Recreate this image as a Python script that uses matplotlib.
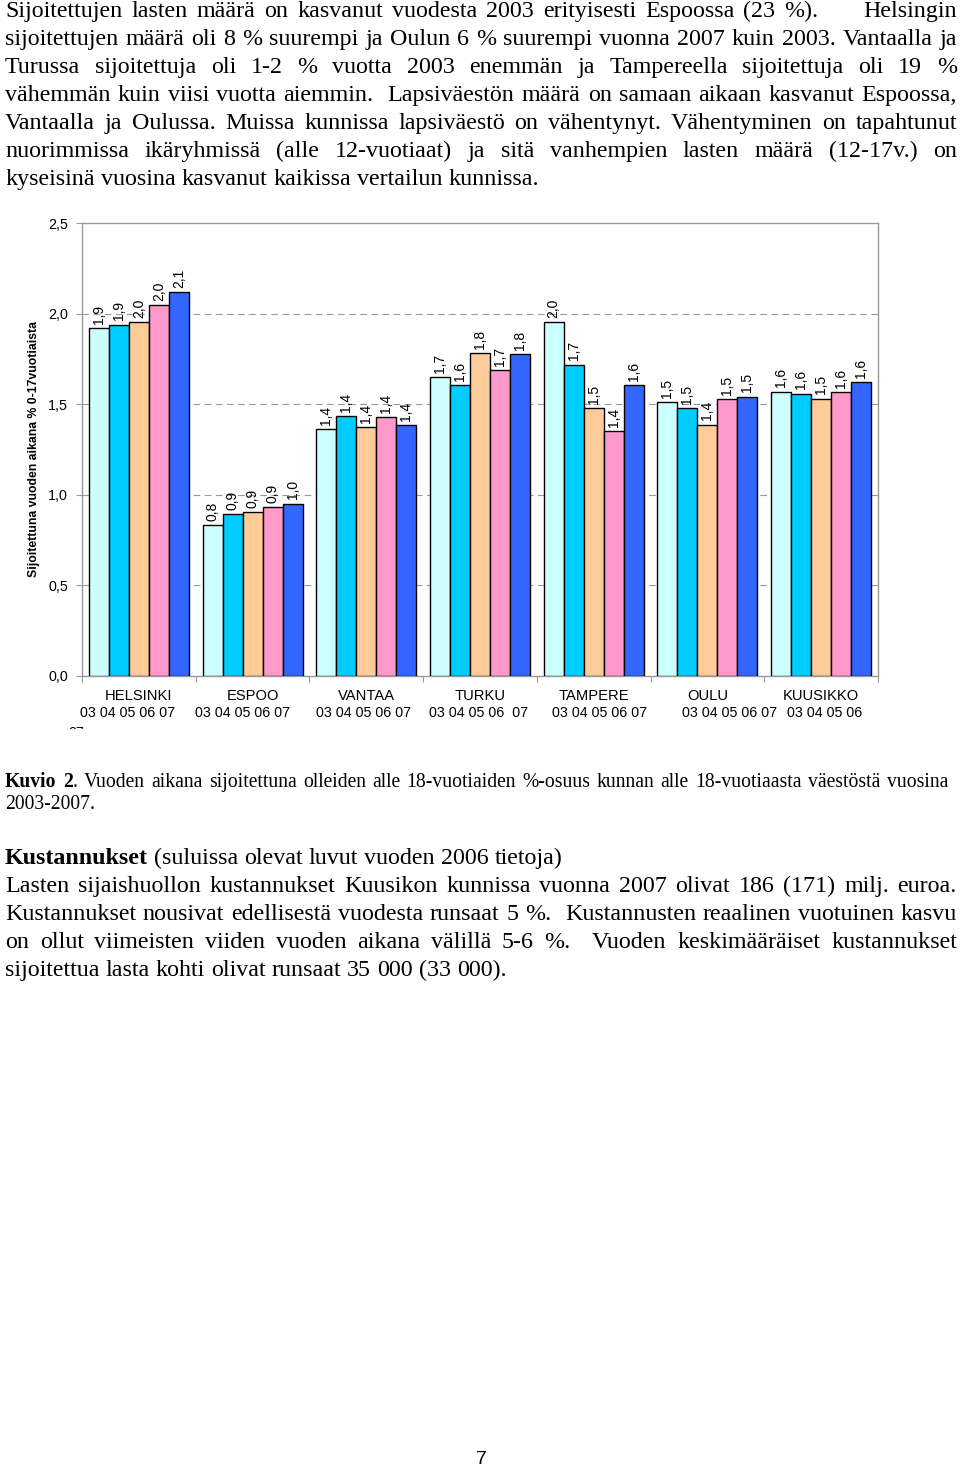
import re
import numpy as np
import matplotlib
matplotlib.use('Agg')
import matplotlib.pyplot as plt
from matplotlib.transforms import Bbox

# data
cities = ['HELSINKI', 'ESPOO', 'VANTAA', 'TURKU', 'TAMPERE', 'OULU', 'KUUSIKKO']
years = ['03', '04', '05', '06', '07']
v03 = [1.922, 0.831, 1.364, 1.652, 1.955, 1.513, 1.570]
v04 = [1.940, 0.892, 1.434, 1.607, 1.719, 1.481, 1.559]
v05 = [1.952, 0.905, 1.375, 1.784, 1.478, 1.388, 1.531]
v06 = [2.047, 0.932, 1.430, 1.690, 1.351, 1.530, 1.565]
v07 = [2.121, 0.951, 1.386, 1.778, 1.607, 1.542, 1.624]
year_rows = ['03 04 05 06 07', '03 04 05 06 07', '03 04 05 06 07', '03 04 05 06  07',
             '03 04 05 06 07', '03 04 05 06 07', '03 04 05 06']
yticks = [0.0, 0.5, 1.0, 1.5, 2.0, 2.5]

para1 = [
    "Sijoitettujen lasten määrä on kasvanut vuodesta 2003 erityisesti Espoossa (23 %).     Helsingin",
    "sijoitettujen määrä oli 8 % suurempi ja Oulun 6 % suurempi vuonna 2007 kuin 2003. Vantaalla ja",
    "Turussa sijoitettuja oli 1-2 % vuotta 2003 enemmän ja Tampereella sijoitettuja oli 19 %",
    "vähemmän kuin viisi vuotta aiemmin.  Lapsiväestön määrä on samaan aikaan kasvanut Espoossa,",
    "Vantaalla ja Oulussa. Muissa kunnissa lapsiväestö on vähentynyt. Vähentyminen on tapahtunut",
    "nuorimmissa ikäryhmissä (alle 12-vuotiaat) ja sitä vanhempien lasten määrä (12-17v.) on",
    "kyseisinä vuosina kasvanut kaikissa vertailun kunnissa.",
]
caption = [
    "*Kuvio 2*. Vuoden aikana sijoitettuna olleiden alle 18-vuotiaiden %-osuus kunnan alle 18-vuotiaasta väestöstä vuosina",
    "2003-2007.",
]
para2 = [
    "*Kustannukset* (suluissa olevat luvut vuoden 2006 tietoja)",
    "Lasten sijaishuollon kustannukset Kuusikon kunnissa vuonna 2007 olivat 186 (171) milj. euroa.",
    "Kustannukset nousivat edellisestä vuodesta runsaat 5 %.  Kustannusten reaalinen vuotuinen kasvu",
    "on ollut viimeisten viiden vuoden aikana välillä 5-6 %.  Vuoden keskimääräiset kustannukset",
    "sijoitettua lasta kohti olivat runsaat 35 000 (33 000).",
]

W, H = 960, 1469
fig = plt.figure(figsize=(W / 100, H / 100), dpi=100)
renderer = fig.canvas.get_renderer()
serif = 'Liberation Serif'
sans = 'Liberation Sans'


def fx(x):
    return x / W


def fy(y):
    return 1 - y / H


def text_w(s, size, bold):
    t = fig.text(0, 0, s, fontsize=size, family=serif, fontweight='bold' if bold else 'normal')
    w = t.get_window_extent(renderer).width
    t.remove()
    return w


def put_line(line, y, size, x0=5, x1=957, justify=True):
    # split into words, keep number of spaces between them
    words = [m.group(0) for m in re.finditer(r'\S+', line)]
    gaps = [len(g) for g in re.findall(r'(?<=\S)( +)(?=\S)', line)]
    bold = False
    parsed = []
    for w in words:
        segs = []
        for k, part in enumerate(w.split('*')):
            if k > 0:
                bold = not bold
            if part:
                segs.append((part, bold))
        parsed.append(segs)
    widths = [sum(text_w(s, size, b) for s, b in segs) for segs in parsed]
    space = text_w('a a', size, False) - text_w('aa', size, False)
    natural = sum(widths) + space * sum(gaps)
    if justify and gaps:
        sp = space + (x1 - x0 - natural) / sum(gaps)
    else:
        sp = space
    x = x0
    for i, segs in enumerate(parsed):
        for s, b in segs:
            fig.text(fx(x), fy(y), s, fontsize=size, family=serif,
                     fontweight='bold' if b else 'normal', va='baseline', ha='left')
            x += text_w(s, size, b)
        if i < len(gaps):
            x += sp * gaps[i]


for k, line in enumerate(para1):
    put_line(line, 17 + 28 * k, 17.3, justify=k < len(para1) - 1)
for k, line in enumerate(caption):
    put_line(line, 787 + 22 * k, 14.1, x1=948, justify=k == 0)
for k, line in enumerate(para2):
    put_line(line, 864 + 28 * k, 17.3, justify=0 < k < len(para2) - 1)

# chart
ax = fig.add_axes([fx(82), fy(675.7), fx(878) - fx(82), fy(223.3) - fy(675.7)])
colors = ['#CCFFFF', '#00CCFF', '#FFCC99', '#FF99CC', '#3366FF']
series = [v03, v04, v05, v06, v07]
bw = 0.176
x = np.arange(len(cities))
for j, vals in enumerate(series):
    xs = x + (j - 2) * bw
    ax.bar(xs, vals, width=bw, color=colors[j], edgecolor='black', linewidth=1.0, zorder=3)
    for xi, v in zip(xs, vals):
        ax.annotate(f'{v:.1f}'.replace('.', ','), (xi, v), xytext=(0, 3),
                    textcoords='offset points', rotation=90, ha='center', va='bottom',
                    fontsize=10, family=sans, zorder=4)

ax.set_xlim(-0.5, 6.5)
ax.set_ylim(0, 2.5)
for g in yticks[1:-1]:
    ax.axhline(g, color='#999999', lw=0.8, ls=(0, (6, 4)), zorder=1)
for s in ax.spines.values():
    s.set_color('#999999')
    s.set_linewidth(1.0)
ax.set_yticks(yticks)
ax.set_yticklabels([f'{t:.1f}'.replace('.', ',') for t in yticks], fontsize=10.3, family=sans)
ax.tick_params(axis='y', length=4, color='#999999', pad=6)
ax.set_xticks(np.arange(-0.5, 7.0, 1.0))
ax.set_xticklabels([])
ax.tick_params(axis='x', length=4, color='#999999')
ax.set_ylabel('Sijoitettuna vuoden aikana % 0-17vuotiaista', fontsize=8.8,
              fontweight='bold', family=sans)
ax.yaxis.set_label_coords(fx(40) - fx(82), 0.5, transform=fig.transFigure)
ax.yaxis.label.set_position((fx(40), fy(449)))

for i, c in enumerate(cities):
    fig.text(fx(82 + 113.7 * (i + 0.5)), fy(696), c, fontsize=10.6, family=sans,
             ha='center', va='center')
year_x = [127.5, 242.5, 363.5, 479, 600, 730, 825]
for xc, row in zip(year_x, year_rows):
    fig.text(fx(xc), fy(713), row, fontsize=10.3, family=sans, ha='center', va='center')
stray = fig.text(fx(76), fy(733), '07', fontsize=10.3, family=sans, ha='center', va='center',
                 clip_on=True)
stray.set_clip_box(Bbox.from_extents(60, H - 729, 100, H - 720))

fig.text(fx(481), fy(1460), '7', fontsize=14, family=sans, ha='center', va='center')

fig.savefig('out.png', dpi=100)
